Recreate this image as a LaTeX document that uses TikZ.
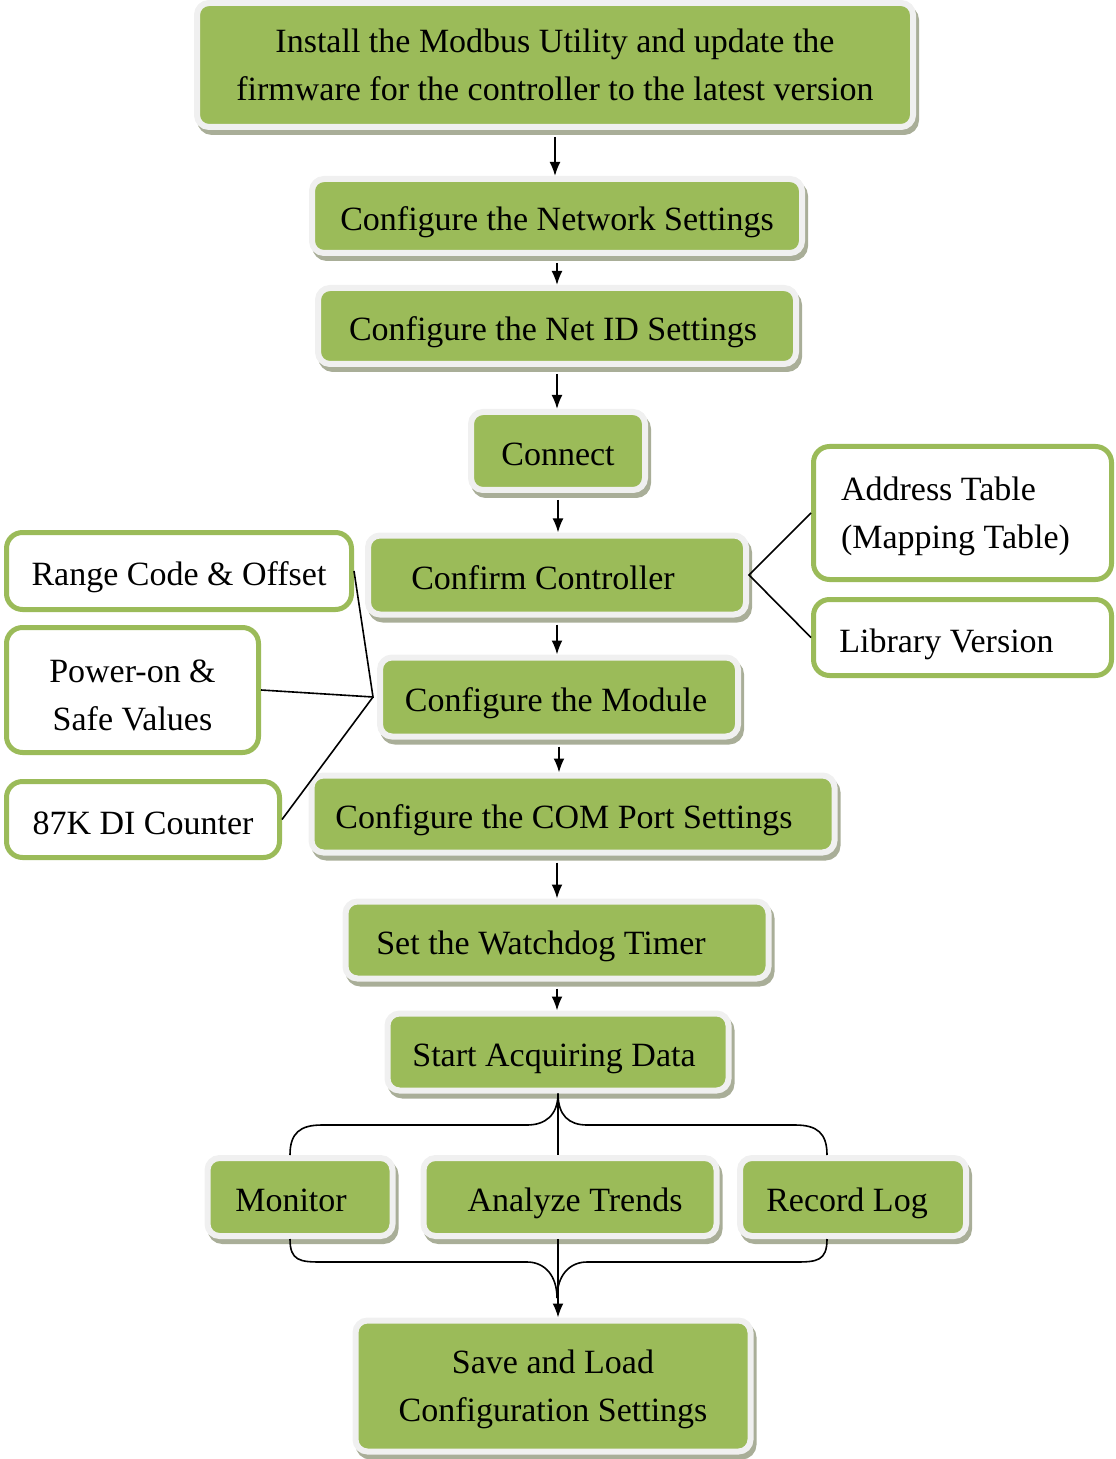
\documentclass[tikz,border=0pt]{standalone}
\usepackage{fontspec}
\setmainfont{Liberation Serif}
\usetikzlibrary{arrows.meta, calc, shadows}
\definecolor{leaf}{HTML}{9BBB59}
\definecolor{frame}{HTML}{F0F0F0}
\definecolor{shade}{HTML}{A9AE98}

\begin{document}
\begin{tikzpicture}[
  x=0.5pt, y=-0.5pt,
  tile/.style={draw=frame, line width=3pt, fill=leaf, rounded corners=6pt,
               align=center, inner sep=0pt, font={\fontsize{17}{24}\selectfont},
               drop shadow={shadow xshift=1.5pt, shadow yshift=-2.5pt,
                            fill=shade, draw=shade, line width=3pt, opacity=1}},
  gbox/.style={tile, text height=14.5pt, text depth=0pt},
  wbox/.style={draw=leaf, line width=2.5pt, fill=white, rounded corners=8pt,
               inner sep=0pt, font={\fontsize{17}{24}\selectfont}},
  arr/.style={-{Latex[length=7pt, width=5.5pt]}, line width=0.9pt},
  link/.style={line width=0.8pt}
]
  \useasboundingbox (0,0) rectangle (1115,1459);

  % main flow
  \node[tile, minimum width=358pt, minimum height=62pt] (install) at (555,65)
    {Install the Modbus Utility and update the\\ firmware for the controller to the latest version};
  \node[gbox, minimum width=245pt, minimum height=37pt] (network) at (557,216)
    {Configure the Network Settings};
  \node[gbox, minimum width=239pt, minimum height=38pt] (netid) at (557,326)
    {Configure the Net ID Settings\hspace*{4pt}};
  \node[gbox, minimum width=87pt, minimum height=39pt] (connect) at (558,451)
    {Connect};
  \node[gbox, minimum width=189pt, minimum height=39.5pt] (confirm) at (557,575)
    {Confirm Controller\hspace*{14pt}};
  \node[gbox, minimum width=179pt, minimum height=39.5pt] (module) at (559,697)
    {Configure the Module\hspace*{3pt}};
  \node[gbox, minimum width=261.5pt, minimum height=38.5pt] (comport) at (573,814)
    {Configure the COM Port Settings\hspace*{9pt}};
  \node[gbox, minimum width=211.5pt, minimum height=38.5pt] (watchdog) at (557,940)
    {Set the Watchdog Timer\hspace*{16pt}};
  \node[gbox, minimum width=170.5pt, minimum height=38.5pt] (acquire) at (558,1052)
    {Start Acquiring Data\hspace*{4pt}};
  \node[gbox, minimum width=92.5pt, minimum height=39pt] (monitor) at (300,1197)
    {Monitor\hspace*{9pt}};
  \node[gbox, minimum width=146.5pt, minimum height=39pt] (trends) at (570,1197)
    {\hspace*{5pt}Analyze Trends};
  \node[gbox, minimum width=113pt, minimum height=39pt] (record) at (853,1197)
    {Record Log\hspace*{6pt}};
  \node[tile, minimum width=197.5pt, minimum height=65.5pt, text depth=0pt] (saveload) at (553,1386)
    {Save and Load\\ Configuration Settings};

  % side notes
  \node[wbox, minimum width=172.5pt, minimum height=38.5pt, text height=14.5pt, text depth=0pt]
    (range) at (179,571) {Range Code \& Offset};
  \node[wbox, minimum width=126pt, minimum height=62.5pt, align=center, text height=40pt, text depth=0pt]
    (power) at (132.5,690) {Power-on \&\\ Safe Values};
  \node[wbox, minimum width=136.5pt, minimum height=38pt, text height=14.5pt, text depth=0pt]
    (counter) at (143,819.5) {87K DI Counter};
  \node[wbox, minimum width=149pt, minimum height=66.5pt, align=left, text depth=0pt]
    (address) at (962.5,513) {Address Table\\ (Mapping Table)\hspace*{7pt}};
  \node[wbox, minimum width=149pt, minimum height=38pt, text height=14.5pt, text depth=0pt]
    (library) at (962.5,637.5) {Library Version\hspace*{16pt}};

  \draw[arr, shorten <=3.5pt] (install) -- (install |- network.north);
  \draw[arr, shorten <=3.5pt] (network) -- (network |- netid.north);
  \draw[arr, shorten <=3.5pt] (netid) -- (netid |- connect.north);
  \draw[arr, shorten <=3.5pt] (connect) -- (connect |- confirm.north);
  \draw[arr, shorten <=3.5pt] (confirm) -- (confirm |- module.north);
  \draw[arr, shorten <=3.5pt] (module) -- (module |- comport.north);
  \draw[arr, shorten <=3.5pt] (watchdog |- comport.south) -- (watchdog);
  \draw[arr, shorten <=3.5pt] (watchdog) -- (watchdog |- acquire.north);

  \draw[link] (address.west) -- (confirm.east) -- (library.west);
  \coordinate (hub) at ([xshift=-2pt]module.west);
  \draw[link] (range.east) -- (hub) -- (power.east);
  \draw[link] (hub) -- (counter.east);

  % split into three
  \draw[link] (acquire.south) .. controls +(0,22) and +(18,0) .. (527,1125)
    -- (322,1125) .. controls +(-22,0) and +(0,-22) .. ([xshift=-5pt]monitor.north);
  \draw[link] (acquire.south) .. controls +(0,22) and +(-18,0) .. (587,1125)
    -- (795,1125) .. controls +(22,0) and +(0,-22) .. ([xshift=-13pt]record.north);
  \draw[link] (acquire.south) -- (acquire.south |- trends.north);

  % merge
  \coordinate (merge) at (557,1298);
  \draw[link] ([xshift=-5pt]monitor.south) .. controls +(0,22) and +(-22,0) .. (322,1262)
    -- (527,1262) .. controls +(18,0) and +(0,-22) .. (merge);
  \draw[link] ([xshift=-13pt]record.south) .. controls +(0,22) and +(22,0) .. (795,1262)
    -- (587,1262) .. controls +(-18,0) and +(0,-22) .. (merge);
  \draw[arr] (acquire.south |- trends.south) -- (acquire.south |- saveload.north);
\end{tikzpicture}
\end{document}
